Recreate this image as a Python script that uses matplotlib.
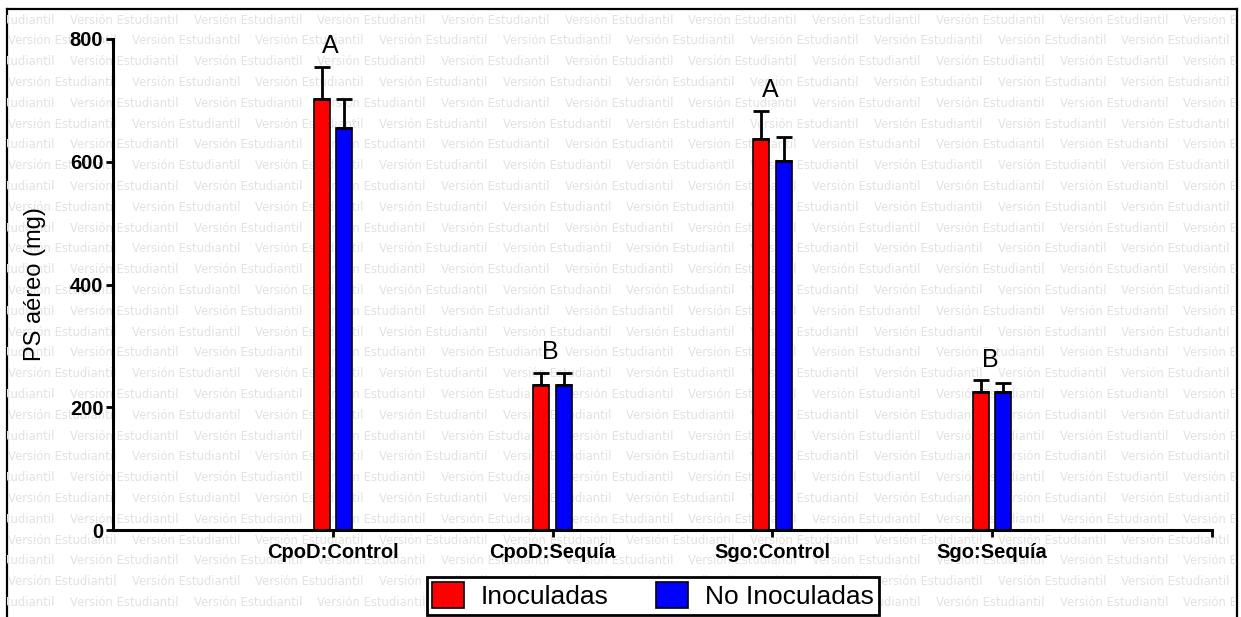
import matplotlib
matplotlib.use('Agg')
import matplotlib.pyplot as plt
import numpy as np

plt.rcParams['font.family'] = ['Liberation Sans', 'DejaVu Sans']

# datos
grupos = ['CpoD:Control', 'CpoD:Sequía', 'Sgo:Control', 'Sgo:Sequía']
inoculadas = [703, 237, 637, 225]
inoculadas_err = [52, 19, 46, 19]
no_inoculadas = [655, 237, 601, 225]
no_inoculadas_err = [48, 19, 40, 15]
letras = ['A', 'B', 'A', 'B']

W, H = 1241, 617
fig = plt.figure(figsize=(W / 100, H / 100), dpi=100)

# fondo con marca de agua y marco
ax_bg = fig.add_axes([7 / W, 0, (1237 - 7) / W, (617 - 9) / H])
ax_bg.set_zorder(0)
ax_bg.set_xlim(7, 1237)
ax_bg.set_ylim(617, 9)
ax_bg.set_xticks([])
ax_bg.set_yticks([])
for s in ['left', 'top', 'right']:
    ax_bg.spines[s].set_linewidth(1.6)
ax_bg.spines['bottom'].set_visible(False)
paso_x, paso_y = 123.7, 20.8
fila = 0
y = 20
while y < 640:
    x0 = 70 if fila % 2 == 0 else 8
    x = x0 - paso_x
    while x < 1240:
        ax_bg.text(x, y, 'Versión Estudiantil', color='#e2e2e2', fontsize=8.4,
                   family='DejaVu Sans', ha='left', va='center', clip_on=True)
        x += paso_x
    y += paso_y
    fila += 1

# grafico principal
ax = fig.add_axes([113 / W, 87 / H, (1212 - 113) / W, 491 / H])
ax.set_zorder(1)
ax.patch.set_alpha(0)

x = np.arange(len(grupos))
ancho = 0.073
off = 0.051
err_kw = dict(elinewidth=2, capsize=6, capthick=2, ecolor='black')
ax.bar(x - off, inoculadas, ancho, yerr=[np.zeros(4), inoculadas_err],
       color='#ff0000', edgecolor='black', linewidth=1.2, label='Inoculadas',
       error_kw=err_kw)
ax.bar(x + off, no_inoculadas, ancho, yerr=[np.zeros(4), no_inoculadas_err],
       color='#0000ff', edgecolor='black', linewidth=1.2, label='No Inoculadas',
       error_kw=err_kw)

for i, l in enumerate(letras):
    tope = max(inoculadas[i] + inoculadas_err[i], no_inoculadas[i] + no_inoculadas_err[i])
    ax.text(i - 0.01, tope + 14, l, ha='center', va='bottom', fontsize=18)

ax.set_xlim(-1, 4)
ax.set_ylim(0, 800)
ax.set_yticks([0, 200, 400, 600, 800])
ax.set_xticks(x)
ax.set_xticklabels(grupos, fontsize=14.5, fontweight='bold')
ax.set_xticks([4], minor=True)
for lbl in ax.get_yticklabels():
    lbl.set_fontsize(14.5)
    lbl.set_fontweight('bold')
ax.tick_params(axis='both', which='both', width=2, length=5, direction='out')
ax.tick_params(axis='y', pad=2)
ax.tick_params(axis='x', pad=4)
for s in ['top', 'right']:
    ax.spines[s].set_visible(False)
for s in ['left', 'bottom']:
    ax.spines[s].set_linewidth(2.2)
ax.set_ylabel('PS aéreo (mg)', fontsize=17)
ax.yaxis.set_label_coords(-0.061, 0.5)

leg = fig.legend(loc='upper left', bbox_to_anchor=(427 / W, 1 - 577 / H),
                 ncol=2, fontsize=19, frameon=True, fancybox=False,
                 framealpha=1, edgecolor='black', borderaxespad=0,
                 borderpad=0.2, handlelength=1.2, handleheight=1.15,
                 handletextpad=0.65, columnspacing=1.8)
leg.get_frame().set_linewidth(2)

fig.savefig('out.png', dpi=100)
